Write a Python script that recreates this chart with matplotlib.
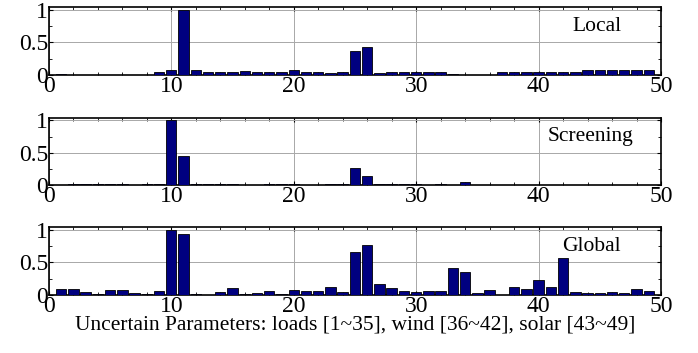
import numpy as np
import matplotlib
matplotlib.use("Agg")
import matplotlib.pyplot as plt
from matplotlib.ticker import MultipleLocator

# parameter index 1..49
params = list(range(1, 50))

local_vals = [0.02, 0.005, 0.005, 0.005, 0.005, 0.005, 0.005, 0.005, 0.05, 0.07,
              1.0, 0.07, 0.05, 0.045, 0.045, 0.06, 0.05, 0.05, 0.045, 0.07,
              0.05, 0.045, 0.035, 0.05, 0.37, 0.43, 0.03, 0.04, 0.05, 0.04,
              0.04, 0.05, 0.01, 0.005, 0.005, 0.005, 0.04, 0.04, 0.04, 0.05,
              0.05, 0.05, 0.05, 0.08, 0.08, 0.08, 0.08, 0.08, 0.08]

screening_vals = [0.005, 0.02, 0.02, 0.02, 0.02, 0.02, 0.005, 0.01, 0.01, 1.0,
                  0.45, 0.02, 0.02, 0.02, 0.015, 0.005, 0.005, 0.02, 0.02, 0.015,
                  0.005, 0.005, 0.02, 0.02, 0.26, 0.14, 0.02, 0.02, 0.01, 0.01,
                  0.005, 0.02, 0.005, 0.05, 0.0, 0.0, 0.0, 0.0, 0.0, 0.0,
                  0.0, 0.0, 0.0, 0.0, 0.0, 0.0, 0.0, 0.0, 0.0]

global_vals = [0.09, 0.09, 0.05, 0.02, 0.08, 0.08, 0.03, 0.02, 0.07, 1.0,
               0.93, 0.01, 0.005, 0.04, 0.11, 0.01, 0.03, 0.07, 0.02, 0.08,
               0.06, 0.06, 0.13, 0.05, 0.66, 0.77, 0.17, 0.11, 0.06, 0.05,
               0.06, 0.07, 0.42, 0.35, 0.03, 0.08, 0.005, 0.13, 0.09, 0.23,
               0.12, 0.56, 0.04, 0.03, 0.03, 0.05, 0.03, 0.09, 0.07]

panel_names = ["Local", "Screening", "Global"]
xlabel = "Uncertain Parameters: loads [1~35], wind [36~42], solar [43~49]"

plt.rcParams["font.family"] = ["Liberation Serif", "DejaVu Serif"]

fig = plt.figure(figsize=(6.98, 3.53), dpi=100)

# axes boxes (left, bottom, width, height) in figure fractions
boxes = [(0.070, 0.788, 0.877, 0.192),
         (0.070, 0.476, 0.877, 0.190),
         (0.070, 0.164, 0.877, 0.193)]
label_pos = [(0.935, 0.72), (0.955, 0.72), (0.935, 0.72)]

for box, name, vals, lp in zip(boxes, panel_names,
                               [local_vals, screening_vals, global_vals], label_pos):
    ax = fig.add_axes(box)
    ax.bar(params, vals, width=0.85, color="#000080", edgecolor="black",
           linewidth=0.6, zorder=3)
    ax.set_xlim(0, 50)
    ax.set_ylim(0, 1.04)
    ax.set_xticks([0, 10, 20, 30, 40, 50])
    ax.set_yticks([0, 0.5, 1])
    ax.set_yticklabels(["0", "0.5", "1"])
    ax.xaxis.set_minor_locator(MultipleLocator(2))
    ax.yaxis.set_minor_locator(MultipleLocator(0.25))
    ax.grid(True, which="major", color="#a8a8a8", linewidth=0.7, zorder=0)
    ax.tick_params(which="both", direction="in", top=True, right=True,
                   labelsize=17, pad=0.5)
    ax.tick_params(which="major", length=3)
    ax.tick_params(which="minor", length=2)
    for s in ax.spines.values():
        s.set_linewidth(1.2)
    ax.text(lp[0], lp[1], name, transform=ax.transAxes, ha="right", va="center",
            fontsize=15.5)
    if name == "Global":
        ax.set_xlabel(xlabel, fontsize=15.5, labelpad=-1)

fig.savefig("out.png", dpi=100)
plt.close(fig)
